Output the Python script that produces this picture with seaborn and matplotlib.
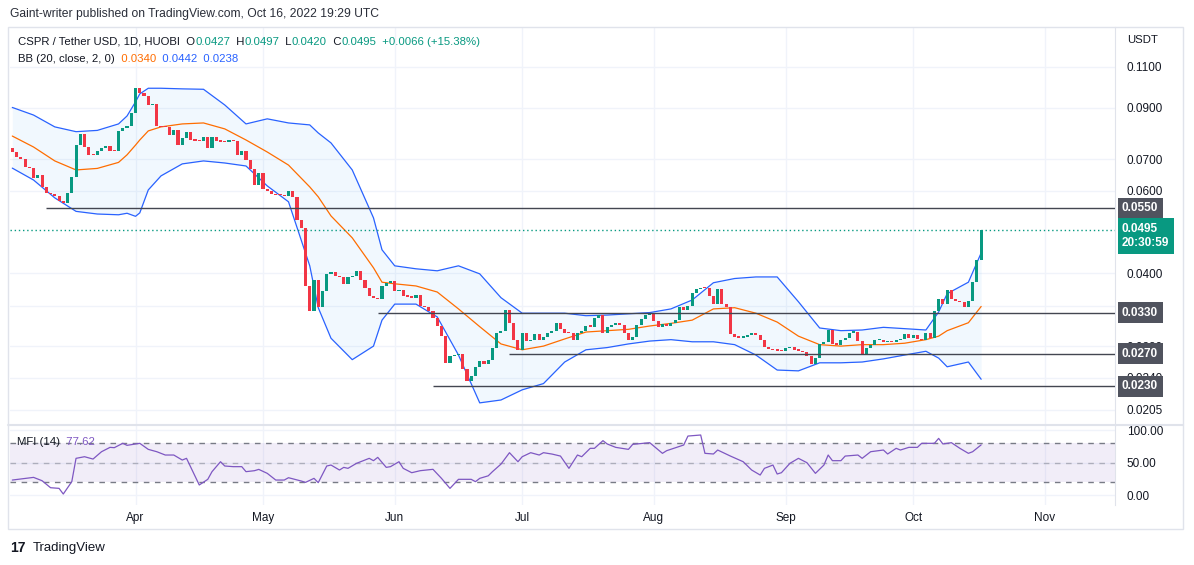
import pandas as pd
import matplotlib
matplotlib.use("Agg")
import matplotlib.pyplot as plt
import seaborn as sns
from matplotlib.patches import Rectangle
from matplotlib.ticker import NullLocator, NullFormatter, FixedLocator, FuncFormatter

sns.set_style("white")
plt.rcParams['font.family'] = ['Liberation Sans', 'DejaVu Sans']

# data (daily candles, CSPR/USDT)
start_date = "2022-03-03"
first_open = 0.0738
closes = [
    0.0726, 0.0709, 0.0700, 0.0675, 0.0669, 0.0638, 0.0648, 0.0612, 0.0594, 0.0590,
    0.0583, 0.0569, 0.0566, 0.0594, 0.0641, 0.0750, 0.0790, 0.0742, 0.0715, 0.0713,
    0.0730, 0.0738, 0.0746, 0.0730, 0.0729, 0.0805, 0.0815, 0.0822, 0.0876, 0.0990,
    0.0968, 0.0953, 0.0912, 0.0918, 0.0822, 0.0820, 0.0818, 0.0787, 0.0808, 0.0750,
    0.0775, 0.0800, 0.0770, 0.0767, 0.0765, 0.0779, 0.0738, 0.0781, 0.0764, 0.0763,
    0.0760, 0.0770, 0.0764, 0.0715, 0.0728, 0.0697, 0.0666, 0.0617, 0.0655, 0.0606,
    0.0598, 0.0590, 0.0588, 0.0586, 0.0584, 0.0600, 0.0581, 0.0519, 0.0500, 0.0376,
    0.0333, 0.0388, 0.0339, 0.0366, 0.0398, 0.0402, 0.0394, 0.0392, 0.0379, 0.0392,
    0.0395, 0.0405, 0.0388, 0.0372, 0.0358, 0.0355, 0.0352, 0.0376, 0.0381, 0.0385,
    0.0366, 0.0369, 0.0358, 0.0357, 0.0355, 0.0360, 0.0341, 0.0339, 0.0333, 0.0321,
    0.0309, 0.0294, 0.0258, 0.0267, 0.0268, 0.0269, 0.0250, 0.0236, 0.0242, 0.0253,
    0.0260, 0.0256, 0.0262, 0.0277, 0.0299, 0.0301, 0.0335, 0.0313, 0.0288, 0.0275,
    0.0299, 0.0287, 0.0289, 0.0297, 0.0289, 0.0293, 0.0299, 0.0301, 0.0313, 0.0304,
    0.0299, 0.0298, 0.0288, 0.0299, 0.0301, 0.0309, 0.0308, 0.0322, 0.0326, 0.0299,
    0.0308, 0.0310, 0.0313, 0.0311, 0.0299, 0.0288, 0.0293, 0.0310, 0.0320, 0.0326,
    0.0328, 0.0317, 0.0307, 0.0312, 0.0309, 0.0313, 0.0318, 0.0339, 0.0335, 0.0340,
    0.0364, 0.0370, 0.0373, 0.0372, 0.0358, 0.0345, 0.0370, 0.0345, 0.0339, 0.0297,
    0.0293, 0.0292, 0.0293, 0.0296, 0.0299, 0.0296, 0.0289, 0.0279, 0.0276, 0.0275,
    0.0274, 0.0273, 0.0277, 0.0279, 0.0275, 0.0274, 0.0272, 0.0267, 0.0257, 0.0264,
    0.0283, 0.0285, 0.0303, 0.0283, 0.0282, 0.0288, 0.0292, 0.0299, 0.0300, 0.0287,
    0.0268, 0.0277, 0.0282, 0.0288, 0.0289, 0.0285, 0.0287, 0.0285, 0.0288, 0.0290,
    0.0297, 0.0291, 0.0296, 0.0290, 0.0288, 0.0299, 0.0292, 0.0332, 0.0352, 0.0344,
    0.0368, 0.0352, 0.0349, 0.0348, 0.0339, 0.0349, 0.0384, 0.0427, 0.0495,
]

# Bollinger bands (20, 2) read at sample days
bb_day = [0, 5, 10, 15, 20, 25, 27, 29, 30, 32, 35, 40, 45, 50, 55, 60, 65, 70, 72, 75,
          80, 85, 87, 90, 95, 100, 105, 110, 115, 120, 125, 130, 135, 140, 145, 150, 155,
          160, 165, 170, 175, 180, 185, 190, 195, 200, 205, 210, 215, 218, 220, 225, 228]
bb_upper = [0.0902, 0.0869, 0.0820, 0.0801, 0.0806, 0.0832, 0.0865, 0.0927, 0.0964, 0.0991,
            0.0991, 0.0988, 0.0986, 0.0913, 0.0832, 0.0853, 0.0836, 0.0828, 0.0796, 0.0758,
            0.0664, 0.0525, 0.0449, 0.0415, 0.0409, 0.0405, 0.0415, 0.0399, 0.0355, 0.0329,
            0.0329, 0.0329, 0.0325, 0.0326, 0.0328, 0.0330, 0.0336, 0.0351, 0.0382, 0.0390,
            0.0393, 0.0393, 0.0348, 0.0306, 0.0302, 0.0303, 0.0307, 0.0305, 0.0303, 0.0331,
            0.0362, 0.0383, 0.0442]
bb_basis = [0.0784, 0.0743, 0.0694, 0.0664, 0.0669, 0.0689, 0.0715, 0.0750, 0.0769, 0.0804,
            0.0820, 0.0832, 0.0836, 0.0812, 0.0769, 0.0725, 0.0680, 0.0611, 0.0582, 0.0530,
            0.0476, 0.0411, 0.0383, 0.0380, 0.0376, 0.0365, 0.0336, 0.0308, 0.0283, 0.0275,
            0.0280, 0.0290, 0.0300, 0.0302, 0.0304, 0.0309, 0.0313, 0.0318, 0.0336, 0.0338,
            0.0329, 0.0315, 0.0294, 0.0282, 0.0280, 0.0282, 0.0282, 0.0284, 0.0289, 0.0294,
            0.0302, 0.0314, 0.0340]
bb_lower = [0.0670, 0.0632, 0.0579, 0.0542, 0.0535, 0.0533, 0.0537, 0.0529, 0.0538, 0.0602,
            0.0645, 0.0684, 0.0694, 0.0687, 0.0677, 0.0614, 0.0568, 0.0415, 0.0338, 0.0291,
            0.0262, 0.0280, 0.0318, 0.0344, 0.0344, 0.0323, 0.0268, 0.0212, 0.0215, 0.0226,
            0.0233, 0.0259, 0.0275, 0.0278, 0.0283, 0.0287, 0.0289, 0.0286, 0.0286, 0.0282,
            0.0268, 0.0249, 0.0248, 0.0258, 0.0258, 0.0259, 0.0263, 0.0268, 0.0273, 0.0264,
            0.0253, 0.0259, 0.0238]

# MFI (14) read at sample days
mfi_day = [0, 5, 7, 9, 11, 12, 14, 15, 17, 19, 21, 23, 24, 26, 27, 30, 32, 34, 36, 38,
           40, 41, 44, 46, 47, 49, 50, 52, 54, 55, 57, 58, 60, 62, 64, 65, 68, 69, 71, 72,
           74, 75, 77, 78, 79, 81, 84, 85, 86, 88, 89, 91, 92, 94, 96, 99, 101, 103, 105, 108,
           109, 110, 112, 113, 115, 117, 119, 120, 122, 124, 125, 127, 129, 131, 133, 134, 136, 137, 139, 140,
           142, 145, 146, 150, 153, 154, 158, 159, 162, 163, 165, 166, 169, 172, 174, 176, 177, 179, 180, 181,
           183, 185, 187, 189, 191, 192, 193, 195, 196, 199, 200, 202, 205, 206, 208, 209, 211, 213, 214, 217,
           218, 219, 221, 223, 225, 226, 228]
mfi_val = [23.5, 27.6, 22.5, 11.7, 10.7, 2.0, 21.0, 56.9, 59.4, 55.8, 67.1, 73.8, 73.3, 80.0, 76.9, 80.0, 70.7, 67.1, 62.0, 62.0,
           54.3, 56.9, 15.9, 24.6, 36.4, 51.7, 45.1, 44.1, 44.1, 36.4, 37.9, 39.9, 33.8, 23.5, 23.5, 27.1, 22.0, 19.9, 26.1, 19.5,
           45.1, 46.6, 38.9, 43.0, 41.5, 49.2, 56.9, 53.3, 58.4, 43.0, 44.1, 51.7, 41.5, 34.8, 37.9, 40.0, 26.1, 10.7, 24.6, 24.6,
           21.0, 26.1, 30.0, 36.4, 48.0, 65.6, 51.7, 59.4, 65.6, 62.0, 65.6, 63.5, 60.4, 41.5, 62.0, 59.4, 72.3, 72.3, 84.1, 79.0,
           73.8, 70.7, 78.4, 81.0, 64.6, 68.7, 77.4, 91.2, 92.8, 64.6, 63.6, 69.7, 60.4, 51.7, 38.9, 31.2, 41.5, 46.6, 32.8, 34.8,
           49.2, 56.9, 50.2, 33.8, 46.6, 62.0, 53.3, 53.3, 60.4, 62.0, 56.9, 67.1, 69.7, 63.6, 72.3, 69.7, 73.8, 73.8, 80.0, 80.0,
           87.6, 79.0, 81.0, 72.3, 64.6, 67.1, 77.6]

# horizontal levels drawn on the chart
level_prices = [0.0550, 0.0330, 0.0270, 0.0230]
level_start_day = [8, 86, 117, 99]

price_ticks = [0.1100, 0.0900, 0.0700, 0.0600, 0.0400, 0.0340, 0.0280, 0.0240, 0.0205]
month_labels = ["Apr", "May", "Jun", "Jul", "Aug", "Sep", "Oct", "Nov"]

UP = "#089981"
DOWN = "#F23645"
TXT = "#131722"
GRID = "#F0F3FA"
BORDER = "#E0E3EB"

df = pd.DataFrame({"close": closes})
df["day"] = range(len(df))
df["open"] = [first_open] + closes[:-1]
df["lo"] = df[["open", "close"]].min(axis=1)
df["hi"] = df[["open", "close"]].max(axis=1)
# dojis still get a visible sliver of body
df["hi"] = pd.concat([df["hi"], df["lo"] * 1.006], axis=1).max(axis=1)
df["color"] = [UP if c >= o else DOWN for o, c in zip(df["open"], df["close"])]

t0 = pd.Timestamp(start_date)
month_days = [(pd.Timestamp(2022, m, 1) - t0).days for m in range(4, 12)]

W, H = 1194, 565
fig = plt.figure(figsize=(W / 100, H / 100), dpi=100)


def box(l, t, r, b):
    return [l / W, 1 - b / H, (r - l) / W, (b - t) / H]


ax = fig.add_axes(box(10, 27, 1115, 425))
axm = fig.add_axes(box(10, 425, 1115, 505), sharex=ax)

# ---- main price pane
ax.set_yscale("log")
ax.set_ylim(0.01902, 0.1338)
ax.set_xlim(-0.54, 259.5)

ax.fill_between(bb_day, bb_lower, bb_upper, color="#2196F3", alpha=0.06, lw=0)
sns.lineplot(x=bb_day, y=bb_upper, ax=ax, color="#2962FF", linewidth=0.9, estimator=None)
sns.lineplot(x=bb_day, y=bb_lower, ax=ax, color="#2962FF", linewidth=0.9, estimator=None)
sns.lineplot(x=bb_day, y=bb_basis, ax=ax, color="#FF6D00", linewidth=0.9, estimator=None)

ax.bar(df["day"], df["hi"] - df["lo"], bottom=df["lo"], width=0.72,
       color=df["color"], linewidth=0, zorder=3)

xmax = ax.get_xlim()[1]
for p, d in zip(level_prices, level_start_day):
    ax.hlines(p, d, xmax, color="#434651", lw=1, zorder=4)
ax.axhline(closes[-1], color=UP, lw=1, ls=(0, (1, 2)), zorder=2)

ax.yaxis.tick_right()
ax.yaxis.set_major_locator(FixedLocator(price_ticks))
ax.yaxis.set_major_formatter(FuncFormatter(lambda v, _: f"{v:.4f}"))
ax.yaxis.set_minor_locator(NullLocator())
ax.yaxis.set_minor_formatter(NullFormatter())
ax.set_xticks(month_days)
ax.tick_params(axis="y", length=0, pad=8.6, labelsize=8.5, labelcolor=TXT)
ax.tick_params(axis="x", length=0, labelbottom=False)
ax.grid(True, color=GRID, lw=1)
ax.set_xlabel("")
ax.set_ylabel("")
for s in ["left", "top"]:
    ax.spines[s].set_visible(False)
for s in ["right", "bottom"]:
    ax.spines[s].set_color(BORDER)

# level labels on the price scale (they cover the ticks beneath, as on the original)
ytr = ax.get_yaxis_transform()
for p in level_prices:
    ax.annotate(f"{p:.4f}", xy=(1, p), xycoords=ytr, xytext=(7, 0), textcoords="offset pixels",
                va="center", ha="left", fontsize=8.5, color="white", fontweight="bold",
                bbox=dict(boxstyle="square,pad=0.38", fc="#50535E", ec="none"),
                annotation_clip=False, zorder=10)
ax.annotate(f"{closes[-1]:.4f}\n20:30:59", xy=(1, closes[-1]), xycoords=ytr, xytext=(7, 7),
            textcoords="offset pixels", va="top", ha="left", fontsize=8.5, color="white",
            fontweight="bold", linespacing=1.25,
            bbox=dict(boxstyle="square,pad=0.38", fc=UP, ec="none"),
            annotation_clip=False, zorder=10)

# ---- MFI pane
axm.set_ylim(-14.9, 108.2)
axm.axhspan(20, 80, color="#7E57C2", alpha=0.1, lw=0)
axm.axhline(80, color="#787B86", lw=1, ls=(0, (4, 4)))
axm.axhline(50, color="#787B86", lw=1, ls=(0, (4, 4)), alpha=0.5)
axm.axhline(20, color="#787B86", lw=1, ls=(0, (4, 4)))
sns.lineplot(x=mfi_day, y=mfi_val, ax=axm, color="#7E57C2", linewidth=0.9, estimator=None)
axm.yaxis.tick_right()
axm.set_yticks([0, 50, 100])
axm.yaxis.set_major_formatter(FuncFormatter(lambda v, _: f"{v:.2f}"))
axm.set_xticks(month_days)
axm.set_xticklabels(month_labels)
axm.tick_params(axis="y", length=0, pad=8.6, labelsize=8.5, labelcolor=TXT)
axm.tick_params(axis="x", length=0, pad=5, labelsize=8.5, labelcolor=TXT)
axm.grid(True, color=GRID, lw=1)
axm.set_xlabel("")
axm.set_ylabel("")
for s in ["left", "top", "bottom"]:
    axm.spines[s].set_visible(False)
axm.spines["right"].set_color(BORDER)

# ---- frame and header texts
fig.add_artist(Rectangle((8 / W, 1 - 529 / H), 1175 / W, 502 / H, transform=fig.transFigure,
                         fill=False, ec=BORDER, lw=1))
fig.add_artist(plt.Line2D([8 / W, 1183 / W], [1 - 425 / H] * 2, color=BORDER, lw=1.5))

renderer = fig.canvas.get_renderer()


def put_pieces(x_px, y_px, pieces, size=8.5):
    x = x_px
    for s, c in pieces:
        t = fig.text(x / W, 1 - y_px / H, s, color=c, fontsize=size, va="center", ha="left")
        x += t.get_window_extent(renderer=renderer).width


put_pieces(10, 14, [("Gaint-writer published on TradingView.com, Oct 16, 2022 19:29 UTC", "#2A2E39")],
           size=8.75)
put_pieces(18, 42, [("CSPR / Tether USD, 1D, HUOBI", TXT), ("  O", TXT), ("0.0427", UP),
                    ("  H", TXT), ("0.0497", UP), ("  L", TXT), ("0.0420", UP),
                    ("  C", TXT), ("0.0495", UP), ("  +0.0066 (+15.38%)", UP)], size=8.2)
put_pieces(18, 59, [("BB (20, close, 2, 0)", TXT), ("  0.0340", "#FF6D00"),
                    ("  0.0442", "#2962FF"), ("  0.0238", "#2962FF")], size=8.2)
put_pieces(17, 442, [("MFI (14)", TXT), ("  77.62", "#7E57C2")], size=8.2)
put_pieces(1127, 40, [("USDT", TXT)], size=8.2)

fig.text(10 / W, 1 - 548 / H, "17", fontsize=10, fontweight="bold", color=TXT, va="center")
fig.text(33 / W, 1 - 548 / H, "TradingView", fontsize=9.5, color=TXT, va="center")

fig.savefig("out.png", dpi=100, facecolor="white")
